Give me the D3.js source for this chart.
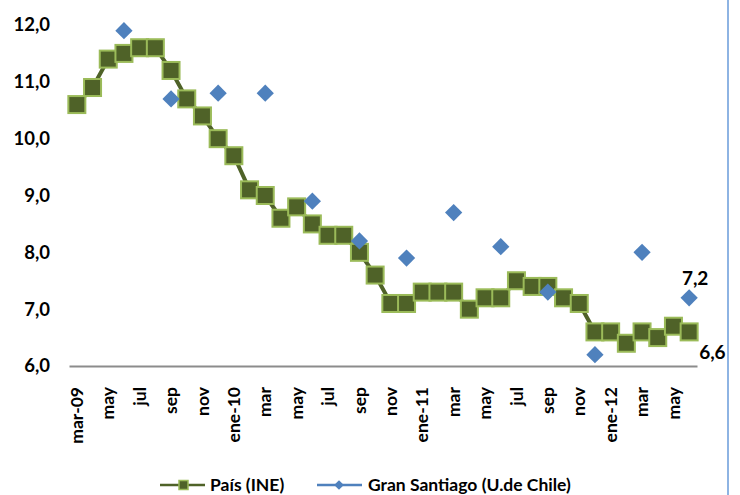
<!DOCTYPE html>
<html>
<head>
<meta charset="utf-8">
<script src="https://cdn.jsdelivr.net/npm/d3@7"></script>
<style>
  body { margin: 0; background: #fff; }
  text { font-family: Lato, "Open Sans", sans-serif; font-weight: bold; fill: #000; }
</style>
</head>
<body>
<div id="chart"></div>
<script>
// months mar-09 .. jun-12
var months = ["mar-09","abr","may","jun","jul","ago","sep","oct","nov","dic",
              "ene-10","feb","mar","abr","may","jun","jul","ago","sep","oct","nov","dic",
              "ene-11","feb","mar","abr","may","jun","jul","ago","sep","oct","nov","dic",
              "ene-12","feb","mar","abr","may","jun"];

// Pais (INE)
var pais = [10.6,10.9,11.4,11.5,11.6,11.6,11.2,10.7,10.4,10.0,
            9.7,9.1,9.0,8.6,8.8,8.5,8.3,8.3,8.0,7.6,7.1,7.1,
            7.3,7.3,7.3,7.0,7.2,7.2,7.5,7.4,7.4,7.2,7.1,6.6,
            6.6,6.4,6.6,6.5,6.7,6.6];

// Gran Santiago (U.de Chile), quarterly
var santiago = [null,null,null,11.9,null,null,10.7,null,null,10.8,
                null,null,10.8,null,null,8.9,null,null,8.2,null,null,7.9,
                null,null,8.7,null,null,8.1,null,null,7.3,null,null,6.2,
                null,null,8.0,null,null,7.2];

var yTicks = [6,7,8,9,10,11,12];
var seriesNames = ["País (INE)", "Gran Santiago (U.de Chile)"];

var W = 740, H = 495;
var margin = {top: 25, right: 43, bottom: 129, left: 69};

var svg = d3.select("#chart").append("svg")
    .attr("width", W).attr("height", H);

var x = d3.scaleBand()
    .domain(d3.range(months.length))
    .range([margin.left, W - margin.right])
    .padding(0);
var y = d3.scaleLinear()
    .domain([6, 12])
    .range([H - margin.bottom, margin.top]);

var cx = function(i) { return x(i) + x.bandwidth() / 2; };
var fmt = function(d) { return d3.format(".1f")(d).replace(".", ","); };

// y axis labels
var yAxis = d3.axisLeft(y)
    .tickValues(yTicks)
    .tickSize(0)
    .tickPadding(19)
    .tickFormat(fmt);
svg.append("g")
    .attr("transform", "translate(" + margin.left + ",0)")
    .call(yAxis)
    .call(function(g) { g.select(".domain").remove(); })
    .selectAll("text")
      .style("font-size", "18.5px");

// x axis
var xAxis = d3.axisBottom(x)
    .tickValues(d3.range(0, months.length, 2))
    .tickSize(0)
    .tickFormat(function(i) { return months[i]; });
var gx = svg.append("g")
    .attr("transform", "translate(0," + y(6) + ")")
    .call(xAxis);
gx.select(".domain").attr("stroke", "#8c8c8c").attr("stroke-width", 2);
gx.selectAll("text")
    .style("font-size", "17.5px")
    .style("text-anchor", "end")
    .attr("transform", "rotate(-90)")
    .attr("x", -21)
    .attr("y", 0)
    .attr("dy", "0.35em");

// Pais line
var line = d3.line()
    .x(function(d, i) { return cx(i); })
    .y(function(d) { return y(d); });
svg.append("path")
    .datum(pais)
    .attr("fill", "none")
    .attr("stroke", "#4f6228")
    .attr("stroke-width", 4)
    .attr("d", line);

var sq = 17;
svg.append("g").selectAll("rect")
    .data(pais)
    .enter().append("rect")
      .attr("x", function(d, i) { return cx(i) - sq / 2; })
      .attr("y", function(d) { return y(d) - sq / 2; })
      .attr("width", sq)
      .attr("height", sq)
      .attr("fill", "#4f6228")
      .attr("stroke", "#9bbb59")
      .attr("stroke-width", 2);

// Gran Santiago diamonds
var diamond = d3.symbol().type(d3.symbolDiamond2).size(190);
svg.append("g").selectAll("path")
    .data(santiago.map(function(v, i) { return {v: v, i: i}; }).filter(function(d) { return d.v != null; }))
    .enter().append("path")
      .attr("d", diamond)
      .attr("transform", function(d) { return "translate(" + cx(d.i) + "," + y(d.v) + ")"; })
      .attr("fill", "#4f81bd");

// end labels
var last = pais.length - 1;
svg.append("text")
    .attr("x", cx(last) + 10)
    .attr("y", y(pais[last]) + 27)
    .style("font-size", "19px")
    .text(fmt(pais[last]));
svg.append("text")
    .attr("x", cx(last) + 6)
    .attr("y", y(santiago[last]) - 13)
    .style("font-size", "19px")
    .style("text-anchor", "middle")
    .text(fmt(santiago[last]));

// right border
svg.append("line")
    .attr("x1", 728).attr("x2", 728)
    .attr("y1", 0).attr("y2", H)
    .attr("stroke", "#8eb4e3")
    .attr("stroke-width", 2);

// legend
var ly = 485;
var lg = svg.append("g");
lg.append("line").attr("x1", 160).attr("x2", 205).attr("y1", ly).attr("y2", ly)
    .attr("stroke", "#4f6228").attr("stroke-width", 2.5);
lg.append("rect").attr("x", 179).attr("y", ly - 4.5).attr("width", 9).attr("height", 9)
    .attr("fill", "#4f6228").attr("stroke", "#9bbb59").attr("stroke-width", 1.5);
lg.append("text").attr("x", 210).attr("y", ly + 5.5).style("font-size", "17.5px").text(seriesNames[0]);
lg.append("line").attr("x1", 317).attr("x2", 362).attr("y1", ly).attr("y2", ly)
    .attr("stroke", "#4f81bd").attr("stroke-width", 2.5);
lg.append("path").attr("d", d3.symbol().type(d3.symbolDiamond2).size(60))
    .attr("transform", "translate(339," + ly + ")").attr("fill", "#4f81bd");
lg.append("text").attr("x", 368).attr("y", ly + 5.5).style("font-size", "17.5px").text(seriesNames[1]);
</script>
</body>
</html>
